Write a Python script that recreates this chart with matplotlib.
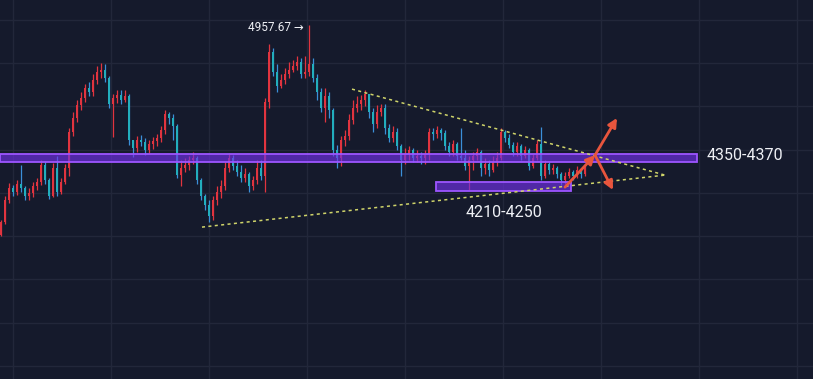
import numpy as np
import matplotlib
matplotlib.use('Agg')
import matplotlib.pyplot as plt
from matplotlib.patches import Rectangle, FancyArrowPatch

# candle data (price)
first_open = 4013
closes = [4072, 4171, 4225, 4207, 4243, 4225, 4189, 4202, 4234, 4252,
          4328, 4261, 4189, 4315, 4207, 4252, 4315, 4477, 4540, 4598,
          4630, 4675, 4657, 4711, 4747, 4756, 4720, 4603, 4630, 4643,
          4621, 4639, 4441, 4405, 4441, 4432, 4396, 4423, 4436, 4450,
          4486, 4558, 4540, 4504, 4283, 4315, 4328, 4351, 4360, 4261,
          4189, 4148, 4099, 4171, 4207, 4234, 4315, 4360, 4324, 4297,
          4270, 4288, 4234, 4261, 4315, 4279, 4612, 4837, 4747, 4684,
          4711, 4738, 4756, 4774, 4792, 4738, 4747, 4783, 4720, 4657,
          4585, 4639, 4576, 4396, 4360, 4441, 4459, 4531, 4585, 4603,
          4621, 4648, 4567, 4513, 4567, 4585, 4495, 4450, 4477, 4414,
          4351, 4378, 4396, 4360, 4369, 4360, 4378, 4477, 4468, 4486,
          4472, 4414, 4387, 4423, 4369, 4360, 4324, 4351, 4369, 4387,
          4315, 4333, 4306, 4342, 4360, 4477, 4450, 4418, 4387, 4414,
          4369, 4396, 4324, 4360, 4423, 4279, 4333, 4306, 4315, 4288,
          4261, 4279, 4297, 4279, 4306, 4288, 4315]
highs = [4081, 4189, 4248, 4238, 4261, 4328, 4234, 4225, 4252, 4270,
         4351, 4346, 4270, 4337, 4369, 4270, 4333, 4495, 4567, 4621,
         4657, 4693, 4702, 4738, 4774, 4787, 4783, 4729, 4648, 4666,
         4666, 4666, 4648, 4441, 4459, 4463, 4450, 4441, 4454, 4468,
         4504, 4576, 4567, 4558, 4513, 4351, 4360, 4369, 4387, 4369,
         4270, 4198, 4171, 4189, 4234, 4261, 4342, 4382, 4373, 4351,
         4328, 4315, 4297, 4279, 4351, 4351, 4630, 4873, 4855, 4783,
         4738, 4765, 4792, 4801, 4819, 4810, 4819, 4957.67, 4810, 4738,
         4675, 4675, 4657, 4585, 4418, 4459, 4486, 4558, 4621, 4639,
         4643, 4666, 4648, 4585, 4598, 4603, 4603, 4513, 4504, 4495,
         4423, 4405, 4414, 4405, 4396, 4387, 4396, 4495, 4495, 4504,
         4495, 4486, 4432, 4441, 4432, 4495, 4396, 4369, 4387, 4405,
         4396, 4360, 4351, 4369, 4387, 4495, 4486, 4468, 4432, 4432,
         4423, 4414, 4405, 4378, 4441, 4499, 4351, 4342, 4333, 4324,
         4297, 4297, 4315, 4306, 4324, 4315, 4333]
lows = [4009, 4063, 4157, 4189, 4193, 4207, 4171, 4171, 4184, 4216,
        4238, 4243, 4175, 4184, 4189, 4198, 4243, 4279, 4459, 4522,
        4576, 4612, 4639, 4639, 4693, 4720, 4702, 4585, 4454, 4607,
        4603, 4612, 4418, 4364, 4387, 4414, 4373, 4382, 4400, 4414,
        4432, 4468, 4513, 4441, 4270, 4234, 4297, 4306, 4333, 4243,
        4171, 4126, 4072, 4081, 4148, 4180, 4216, 4297, 4306, 4279,
        4252, 4252, 4207, 4216, 4243, 4261, 4207, 4585, 4729, 4657,
        4675, 4693, 4720, 4747, 4756, 4720, 4720, 4729, 4702, 4621,
        4567, 4522, 4540, 4369, 4315, 4324, 4414, 4441, 4513, 4567,
        4576, 4594, 4540, 4477, 4495, 4549, 4468, 4432, 4432, 4396,
        4279, 4333, 4351, 4342, 4342, 4333, 4333, 4351, 4441, 4450,
        4441, 4396, 4369, 4369, 4351, 4351, 4306, 4216, 4306, 4351,
        4279, 4288, 4279, 4297, 4324, 4351, 4432, 4405, 4369, 4369,
        4351, 4360, 4306, 4315, 4351, 4261, 4270, 4288, 4288, 4270,
        4238, 4243, 4270, 4261, 4270, 4270, 4279]

# zones and annotations
zone_main = (4350, 4370)
zone_low = (4210, 4250)
peak_label = "4957.67 \u2192"
upper_trend = ([87.75, 166], [4670, 4283])
lower_trend = ([50.25, 166], [4049, 4283])
arrow_up = [(141, 4229), (148.5, 4373)]
arrow_fork = [(148.5, 4373), (154, 4540), (153, 4216)]

bg = '#151a2c'
grid_c = '#22273a'
up_c = '#e1343f'
dn_c = '#22aebd'
dn_wick = '#3b8fd9'
purple = '#7030e8'
arrow_c = '#e8553d'

fig = plt.figure(figsize=(8.13, 3.79), dpi=100)
fig.patch.set_facecolor(bg)
ax = fig.add_axes([0, 0, 1, 1])
ax.set_facecolor(bg)
ax.set_xlim(-0.25, 203)
ax.set_ylim(3365.5, 5071)
for s in ax.spines.values():
    s.set_visible(False)
ax.set_xticks([])
ax.set_yticks([])

# grid
for gx in np.arange(3, 203, 24.5):
    ax.axvline(gx, color=grid_c, lw=1.0, zorder=0)
for gy in np.arange(4981, 3300, -194.6):
    ax.axhline(gy, color=grid_c, lw=1.0, zorder=0)

# candles
c = np.array(closes, float)
o = np.concatenate([[first_open], c[:-1]])
h = np.array(highs, float)
l = np.array(lows, float)
x = np.arange(len(c))
up = c >= o
ax.vlines(x[up], l[up], h[up], color=up_c, lw=0.9, zorder=2)
ax.vlines(x[~up], l[~up], h[~up], color=dn_wick, lw=0.9, zorder=2)
body_lo = np.minimum(o, c)
body_h = np.maximum(np.abs(c - o), 3)
ax.bar(x[up], body_h[up], bottom=body_lo[up], width=0.72, color=up_c, lw=0, zorder=3)
ax.bar(x[~up], body_h[~up], bottom=body_lo[~up], width=0.72, color=dn_c, lw=0, zorder=3)

# zones
pad = 8
for (x0, w), (lo, hi) in (((-0.25, 174.25), (zone_main[0] - pad, zone_main[1] + pad)),
                          ((108.75, 33.75), zone_low)):
    ax.add_patch(Rectangle((x0, lo), w, hi - lo, facecolor=purple, alpha=0.65,
                           edgecolor='none', zorder=4))
    ax.add_patch(Rectangle((x0, lo), w, hi - lo, facecolor='none',
                           edgecolor='#9d55ff', lw=1.3, zorder=4))

# trend lines
for xs, ys in (upper_trend, lower_trend):
    ax.plot(xs, ys, color='#cfd46a', lw=1.1, dashes=(2, 2.2), zorder=5)

# arrows
def arrow(p0, p1):
    ax.add_patch(FancyArrowPatch(p0, p1, arrowstyle='-|>', mutation_scale=13,
                                 color=arrow_c, lw=2, shrinkA=0, shrinkB=0, zorder=6))

arrow(arrow_up[0], arrow_up[1])
arrow(arrow_fork[0], arrow_fork[1])
arrow(arrow_fork[0], arrow_fork[2])

# labels
fam = ['Roboto', 'DejaVu Sans']
ax.text(176.5, sum(zone_main) / 2 + 12, f"{zone_main[0]}-{zone_main[1]}", color='#eef0f5',
        fontsize=11.5, family=fam, va='center', ha='left', zorder=7)
ax.text(125.75, 4117, f"{zone_low[0]}-{zone_low[1]}", color='#eef0f5',
        fontsize=11.5, family=fam, va='center', ha='center', zorder=7)
ax.text(75.8, 4949, peak_label, color='#eef0f5', fontsize=8.5, family=fam,
        va='center', ha='right', zorder=7)

fig.savefig('out.png', dpi=100, facecolor=bg)
